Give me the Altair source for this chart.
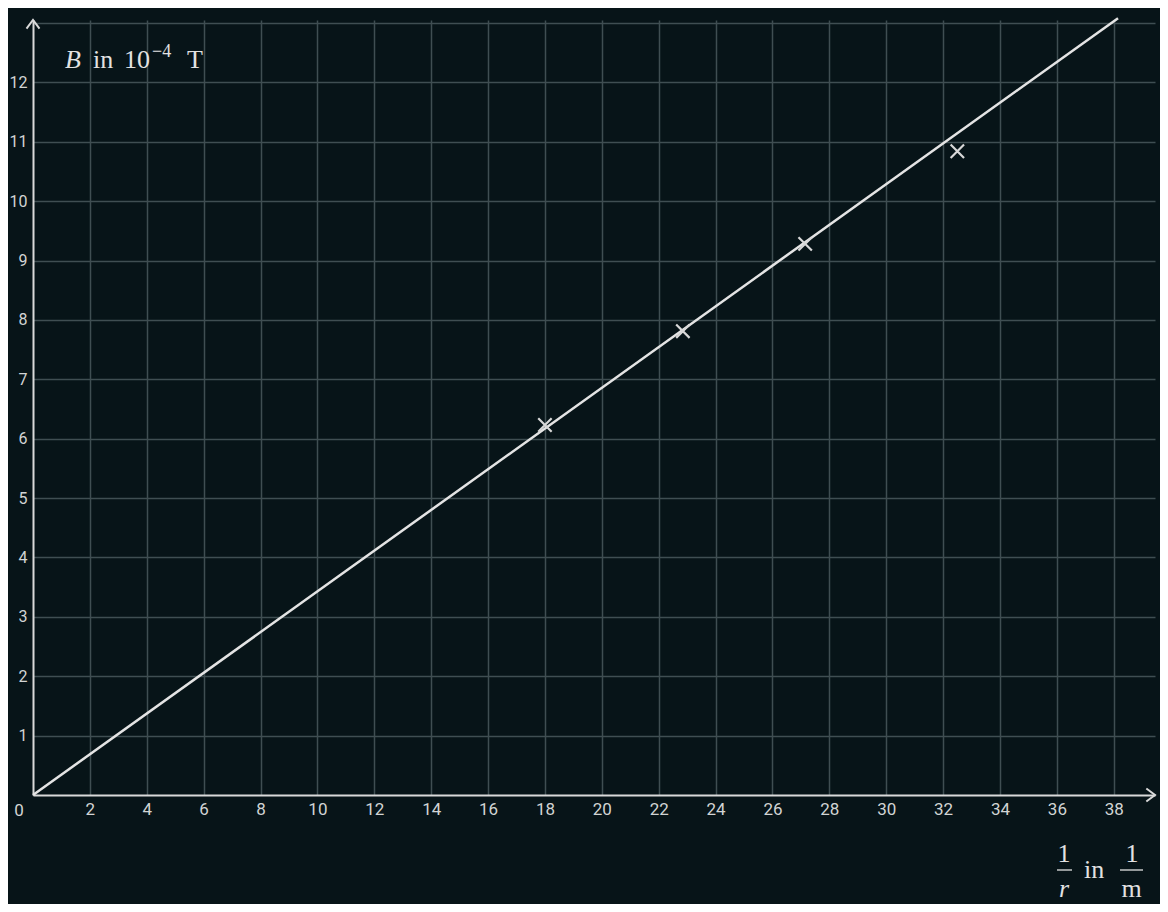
import altair as alt
import pandas as pd

# ---- data ----
x_ticks = list(range(2, 39, 2))
y_ticks = list(range(1, 14))
meas_x = [18.0, 22.85, 27.15, 32.5]
meas_y = [6.23, 7.81, 9.28, 10.84]
fit_x = [0.0, 38.15]
fit_y = [0.0, 13.08]
x_max = 39.45
y_max = 13.05

BG = "#071418"
GRID = "#3f4e52"
AX = "#d9d9d9"
LBL = "#d2d4d4"
TXT = "#e2e2e2"

xs = alt.Scale(domain=[0, x_max], nice=False, zero=False)
ys = alt.Scale(domain=[0, y_max], nice=False, zero=False)

fit_df = pd.DataFrame({"x": fit_x, "y": fit_y})
meas_df = pd.DataFrame({"x": meas_x, "y": meas_y})

xaxis = alt.Axis(values=x_ticks, grid=True, gridColor=GRID, gridWidth=1.5,
                 ticks=False, domain=True, domainColor=AX, domainWidth=2,
                 labelFont="Roboto", labelFontSize=17, labelColor=LBL,
                 labelPadding=6, title=None, labelFlush=False, format="d")
yaxis = alt.Axis(values=y_ticks, grid=True, gridColor=GRID, gridWidth=1.5,
                 ticks=False, domain=True, domainColor=AX, domainWidth=2,
                 labelFont="Roboto", labelFontSize=16, labelColor=LBL,
                 labelPadding=6, title=None, labelFlush=False, format="d",
                 labelExpr="datum.value == 13 ? '' : datum.label")

fit = alt.Chart(fit_df).mark_line(color="#e4e4e4", strokeWidth=2.5).encode(
    x=alt.X("x:Q", scale=xs, axis=xaxis),
    y=alt.Y("y:Q", scale=ys, axis=yaxis),
)

crosses = alt.Chart(meas_df).mark_point(
    shape="M -1 -1 L 1 1 M -1 1 L 1 -1", filled=False, size=180,
    stroke="#d8d8d8", strokeWidth=2.2, opacity=1
).encode(x=alt.X("x:Q", scale=xs), y=alt.Y("y:Q", scale=ys))

arrow_df = pd.DataFrame({"x": [x_max], "y": [0.0]})
arrow_x = alt.Chart(arrow_df).mark_point(
    shape="M -1 -0.75 L 0 0 L -1 0.75", filled=False, size=300,
    stroke=AX, strokeWidth=2, opacity=1
).encode(x=alt.X("x:Q", scale=xs), y=alt.Y("y:Q", scale=ys))

arrow_y_df = pd.DataFrame({"x": [0.0], "y": [y_max]})
arrow_y = alt.Chart(arrow_y_df).mark_point(
    shape="M -0.75 1 L 0 0 L 0.75 1", filled=False, size=300,
    stroke=AX, strokeWidth=2, opacity=1
).encode(x=alt.X("x:Q", scale=xs), y=alt.Y("y:Q", scale=ys))

zero_df = pd.DataFrame({"x": [0.0], "y": [0.0], "t": ["0"]})
zero_lbl = alt.Chart(zero_df).mark_text(
    font="Roboto", fontSize=17, color=LBL, dx=-14, dy=16,
    align="center", baseline="middle"
).encode(x=alt.X("x:Q", scale=xs), y=alt.Y("y:Q", scale=ys), text="t:N")


def txt(s, px, py, size=26, style="normal", align="left", baseline="alphabetic"):
    return alt.Chart(pd.DataFrame({"t": [s]})).mark_text(
        font="Liberation Serif", fontSize=size, fontStyle=style, color=TXT,
        align=align, baseline=baseline
    ).encode(x=alt.value(px), y=alt.value(py), text="t:N")


def bar(x1, x2, py):
    return alt.Chart(pd.DataFrame({"t": [0]})).mark_rule(
        color=TXT, strokeWidth=1.3
    ).encode(x=alt.value(x1), x2=alt.value(x2), y=alt.value(py))


labels = [
    txt("B", 32, 48, style="italic"),
    txt("in", 60, 48),
    txt("10", 91, 48),
    txt("\u22124", 119, 37, size=18),
    txt("T", 154, 48),
    txt("1", 1031, 842, align="center"),
    bar(1024, 1039, 850),
    txt("r", 1031, 877, style="italic", align="center"),
    txt("in", 1051, 858),
    txt("1", 1099, 842, align="center"),
    bar(1087, 1110, 850),
    txt("m", 1098.5, 877, align="center"),
]

chart = alt.layer(fit, crosses, arrow_x, arrow_y, zero_lbl, *labels).properties(
    width=1122, height=775,
    autosize=alt.AutoSizeParams(type="none"),
    padding={"left": 25, "top": 12, "right": 5, "bottom": 109},
    background=BG,
).configure_view(stroke=None)

chart.save("out.html", embed_options={"renderer": "svg", "actions": False})
